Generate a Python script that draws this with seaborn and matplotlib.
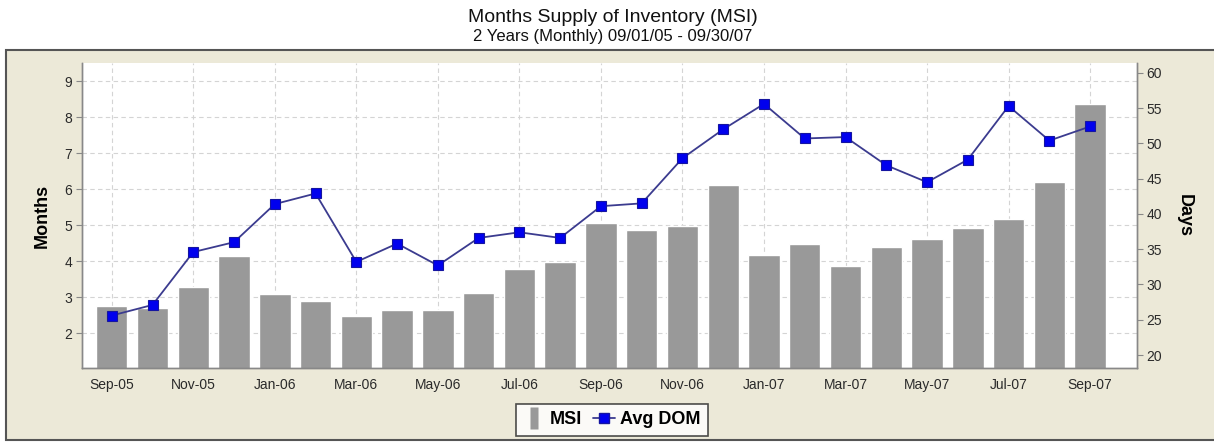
import matplotlib
matplotlib.use('Agg')
import matplotlib.pyplot as plt
import seaborn as sns
import pandas as pd
from matplotlib.patches import Rectangle
from matplotlib.lines import Line2D

# monthly data Sep-05 .. Sep-07
months = ['Sep-05', 'Oct-05', 'Nov-05', 'Dec-05', 'Jan-06', 'Feb-06', 'Mar-06', 'Apr-06',
          'May-06', 'Jun-06', 'Jul-06', 'Aug-06', 'Sep-06', 'Oct-06', 'Nov-06', 'Dec-06',
          'Jan-07', 'Feb-07', 'Mar-07', 'Apr-07', 'May-07', 'Jun-07', 'Jul-07', 'Aug-07', 'Sep-07']
msi = [2.77, 2.71, 3.28, 4.15, 3.10, 2.91, 2.49, 2.64, 2.66, 3.13, 3.79, 3.97, 5.05,
       4.86, 4.98, 6.11, 4.17, 4.48, 3.86, 4.41, 4.62, 4.92, 5.18, 6.20, 8.35]
avg_dom = [25.6, 27.1, 34.6, 36.0, 41.4, 42.9, 33.2, 35.8, 32.7, 36.6, 37.4, 36.6, 41.1,
           41.5, 47.9, 52.0, 55.6, 50.7, 50.9, 46.9, 44.5, 47.7, 55.3, 50.4, 52.4]

df = pd.DataFrame({'Month': months, 'MSI': msi, 'Avg DOM': avg_dom})
df['idx'] = range(len(df))

sns.set_style('white')
plt.rcParams['font.family'] = ['Liberation Sans', 'DejaVu Sans']

bar_color = '#999999'
line_color = '#3B3B8F'
marker_color = '#0000EE'
text_color = '#2A2A2A'

fig = plt.figure(figsize=(12.14, 4.42), dpi=100)
fig.patch.set_facecolor('white')

# beige chart panel behind everything
W, H = 1214, 442
panel = Rectangle((6 / W, 2 / H), 1.1, (440 - 50) / H, transform=fig.transFigure,
                  facecolor='#ECE9D8', edgecolor='#555555', linewidth=1.5, zorder=-10)
fig.patches.append(panel)

ax = fig.add_axes([82 / W, (H - 368) / H, (1137 - 82) / W, (368 - 63) / H])
ax.set_facecolor('white')

sns.barplot(data=df, x='Month', y='MSI', color=bar_color, saturation=1, width=0.77,
            ax=ax, zorder=2)

ax2 = ax.twinx()
sns.lineplot(data=df, x='idx', y='Avg DOM', ax=ax2, color=line_color, linewidth=1.3,
             marker='s', markersize=6.5, markerfacecolor=marker_color,
             markeredgecolor='#1515A0', markeredgewidth=0.8, legend=False)

ax.set_xlim(-0.73, 25.15)
ax.set_ylim(1.04, 9.5)
ax2.set_ylim(18.16, 61.4)

tick_pos = list(range(0, len(months), 2))
ax.set_xticks(tick_pos)
ax.set_xticklabels([months[i] for i in tick_pos])
ax.set_yticks(range(2, 10))
ax2.set_yticks(range(20, 61, 5))

ax.set_axisbelow(True)
ax.grid(True, axis='both', linestyle=(0, (4, 3)), color='#D4D4D4', linewidth=0.8)
ax2.grid(False)

ax.set_xlabel('')
ax.set_ylabel('Months', fontsize=13, fontweight='bold', color='black', labelpad=10)
ax2.set_xlabel('')
ax2.set_ylabel('Days', fontsize=13, fontweight='bold', color='black', rotation=270,
               labelpad=22)

for a in (ax, ax2):
    a.tick_params(axis='both', direction='out', length=4, width=0.8, color='#888888',
                  labelsize=10, labelcolor=text_color, pad=3)
    for side in ('left', 'bottom', 'right'):
        a.spines[side].set_color('#888888')
        a.spines[side].set_linewidth(1.0)
    a.spines['top'].set_visible(False)

fig.text(613 / W, 1 - 18 / H, 'Months Supply of Inventory (MSI)', ha='center', va='center',
         fontsize=14, color='#111111')
fig.text(613 / W, 1 - 37 / H, '2 Years (Monthly) 09/01/05 - 09/30/07', ha='center',
         va='center', fontsize=12, color='#111111')

# tall narrow swatch for the bars, line+square for DOM
bar_swatch = [(-0.35, -1), (0.35, -1), (0.35, 1), (-0.35, 1), (-0.35, -1)]
handles = [Line2D([], [], linestyle='none', marker=bar_swatch, markersize=16,
                  markerfacecolor=bar_color, markeredgecolor='none'),
           Line2D([], [], color=line_color, linewidth=1.3, marker='s', markersize=6.5,
                  markerfacecolor=marker_color, markeredgecolor='#1515A0')]
leg = fig.legend(handles, ['MSI', 'Avg DOM'], loc='center', ncol=2,
                 bbox_to_anchor=(612 / W, (H - 420) / H), frameon=True, fancybox=False,
                 prop={'weight': 'bold', 'size': 13}, handlelength=1.2, handletextpad=0.3,
                 columnspacing=0.6, borderpad=0.4)
leg.get_frame().set_edgecolor('#222222')
leg.get_frame().set_linewidth(1.2)
leg.get_frame().set_facecolor('white')
for t in leg.get_texts():
    t.set_color('black')

fig.savefig('out.png', dpi=100)
